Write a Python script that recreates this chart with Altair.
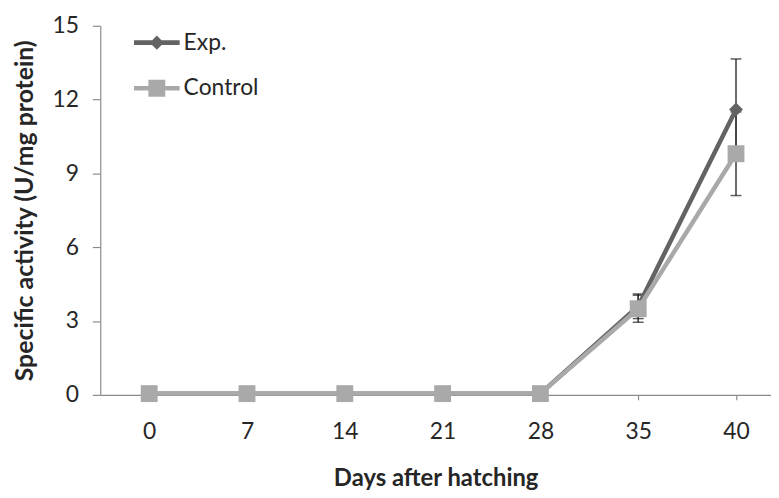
import altair as alt
import pandas as pd

days = ["0", "7", "14", "21", "28", "35", "40"]
series_names = ["Exp.", "Control"]
exp_vals = [0.05, 0.05, 0.05, 0.05, 0.05, 3.6, 11.6]
ctrl_vals = [0.05, 0.05, 0.05, 0.05, 0.05, 3.5, 9.8]
exp_err = [0, 0, 0, 0, 0, 0.5, 2.05]
ctrl_err = [0, 0, 0, 0, 0, 0.55, 1.7]
y_ticks = [0, 3, 6, 9, 12, 15]

rows = []
for name, vals, errs in [("Exp.", exp_vals, exp_err), ("Control", ctrl_vals, ctrl_err)]:
    for d, v, e in zip(days, vals, errs):
        rows.append({"day": d, "series": name, "value": v, "lo": v - e, "hi": v + e, "err": e})
df = pd.DataFrame(rows)

EXP_C = "#636363"
CTRL_C = "#a9a9a9"
AXIS_C = "#8c8c8c"
TEXT_C = "#262626"

x_scale = alt.Scale(type="point", padding=0.429, align=0.583)
y_scale = alt.Scale(domain=[0, 15], nice=False, zero=True)
y_axis = alt.Axis(values=y_ticks, title="Specific activity (U/mg protein)")

def X():
    return alt.X("day:N", sort=days, scale=x_scale, title="Days after hatching")

def Y(field):
    return alt.Y(field, scale=y_scale, axis=y_axis)

base = alt.Chart(df)

err_df = base.transform_filter("datum.err > 0")
err_rule = err_df.mark_rule(color="#3a3a3a", strokeWidth=1.5).encode(x=X(), y=Y("lo:Q"), y2="hi:Q")
cap_lo = err_df.mark_tick(color="#1a1a1a", thickness=1.5, size=11, orient="horizontal").encode(x=X(), y=Y("lo:Q"))
cap_hi = err_df.mark_tick(color="#1a1a1a", thickness=1.5, size=11, orient="horizontal").encode(x=X(), y=Y("hi:Q"))

exp_df = base.transform_filter("datum.series == 'Exp.'")
ctrl_df = base.transform_filter("datum.series == 'Control'")

exp_line = exp_df.mark_line(color=EXP_C, strokeWidth=4.5).encode(x=X(), y=Y("value:Q"))
exp_pts = exp_df.mark_point(filled=True, shape="diamond", size=196, color=EXP_C, opacity=1).encode(
    x=X(), y=Y("value:Q"))
ctrl_line = ctrl_df.mark_line(color=CTRL_C, strokeWidth=4.5).encode(x=X(), y=Y("value:Q"))
ctrl_pts = ctrl_df.mark_point(filled=True, shape="square", size=289, color=CTRL_C, opacity=1).encode(
    x=X(), y=Y("value:Q"))

exp_sym = "M-1,-0.1H1V0.1H-1Z M0,-0.31L0.31,0L0,0.31L-0.31,0Z"
ctrl_sym = "M-1,-0.1H1V0.1H-1Z M-0.37,-0.37H0.37V0.37H-0.37Z"

legend_layer = base.transform_filter("datum.value > 1000").mark_point(filled=True, size=2116, opacity=1).encode(
    x=X(),
    y=Y("value:Q"),
    color=alt.Color("series:N", scale=alt.Scale(domain=series_names, range=[EXP_C, CTRL_C]),
                    legend=alt.Legend(title=None, orient="none", legendX=34, legendY=-6,
                                      symbolSize=2116, symbolStrokeWidth=0, symbolOpacity=1,
                                      labelOffset=4, rowPadding=11, padding=0, offset=0,
                                      labelFont="Lato", labelFontSize=23, labelColor=TEXT_C)),
    shape=alt.Shape("series:N", scale=alt.Scale(domain=series_names, range=[exp_sym, ctrl_sym])),
)

chart = alt.layer(err_rule, cap_lo, cap_hi, exp_line, exp_pts, ctrl_line, ctrl_pts, legend_layer).properties(
    width=676, height=372,
    padding={"left": 4, "top": 5, "right": 0, "bottom": 0},
).configure_view(stroke=None).configure_axis(
    domainColor=AXIS_C, tickColor=AXIS_C, domainWidth=1.2, tickWidth=1.2, grid=False,
    labelFont="Lato", labelFontSize=23, labelColor=TEXT_C,
    titleFont="Lato", titleFontSize=24, titleFontWeight="bold", titleColor=TEXT_C,
).configure_axisX(
    labelAngle=0, tickSize=5, labelPadding=21, titlePadding=23,
).configure_axisY(
    tickSize=8, labelPadding=14, titlePadding=15, titleFontSize=25,
)

chart.save("out.html", embed_options={"renderer": "svg", "actions": False})
